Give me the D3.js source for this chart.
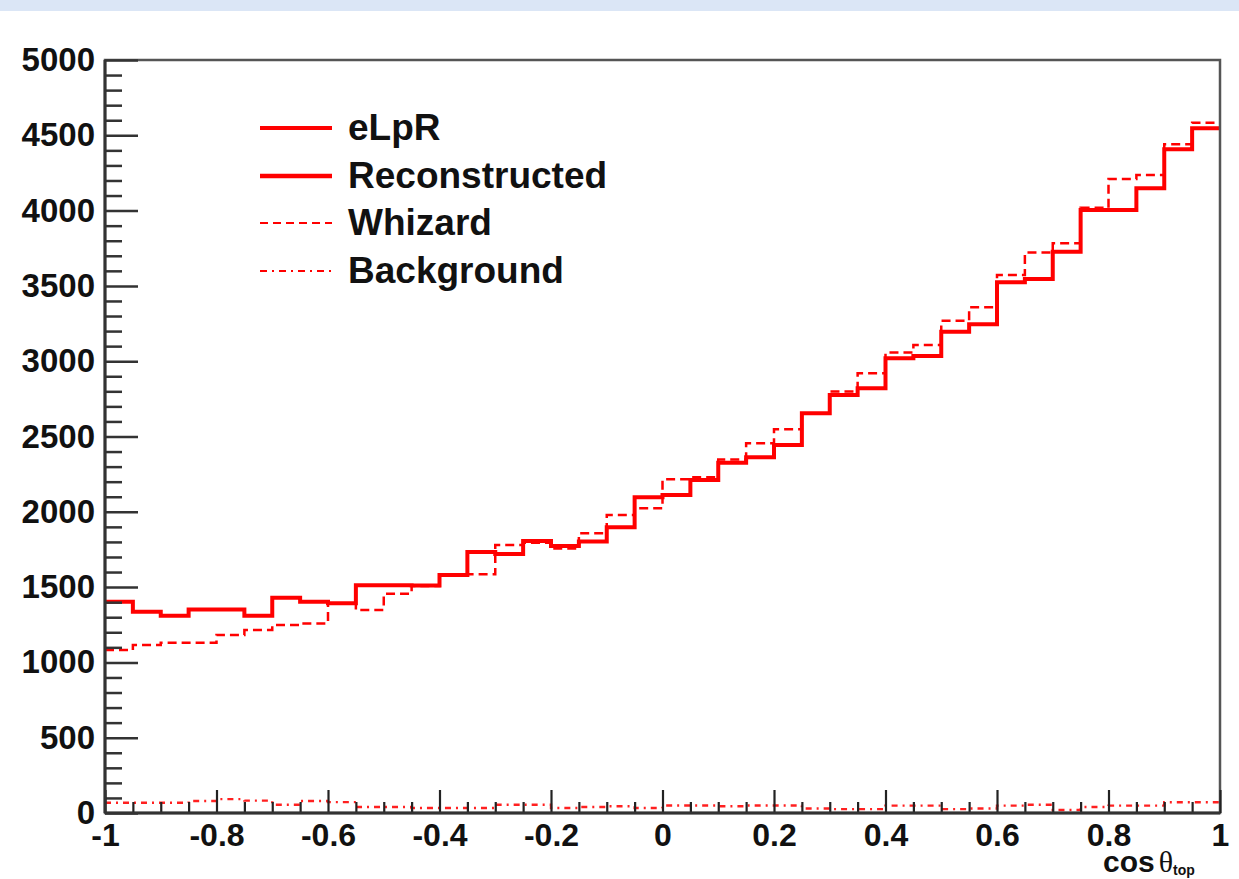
<!DOCTYPE html>
<html>
<head>
<meta charset="utf-8">
<script src="https://cdn.jsdelivr.net/npm/d3@7"></script>
<style>
  html, body { margin: 0; padding: 0; background: #ffffff; }
  svg { display: block; }
  text { font-family: "Liberation Sans", Arial, Helvetica, sans-serif; font-weight: bold; fill: #111; }
</style>
</head>
<body>
<svg id="chart" width="1239" height="879"></svg>
<script>
// ---- data ----
const binEdges = [-1, -0.95, -0.9, -0.85, -0.8, -0.75, -0.7, -0.65, -0.6, -0.55,
  -0.5, -0.45, -0.4, -0.35, -0.3, -0.25, -0.2, -0.15, -0.1, -0.05,
  0, 0.05, 0.1, 0.15, 0.2, 0.25, 0.3, 0.35, 0.4, 0.45,
  0.5, 0.55, 0.6, 0.65, 0.7, 0.75, 0.8, 0.85, 0.9, 0.95, 1];
const reconstructed = [1403, 1337, 1310, 1352, 1352, 1310, 1430, 1403, 1392, 1512,
  1512, 1510, 1580, 1733, 1720, 1806, 1773, 1802, 1897, 2096,
  2112, 2211, 2326, 2362, 2444, 2654, 2776, 2820, 3019, 3034,
  3196, 3245, 3525, 3545, 3727, 4004, 4004, 4148, 4407, 4546];
const whizard = [1082, 1115, 1131, 1131, 1182, 1215, 1248, 1259, 1390, 1348,
  1456, 1507, 1578, 1585, 1780, 1795, 1757, 1857, 1979, 2023,
  2216, 2229, 2348, 2455, 2548, 2654, 2798, 2920, 3057, 3108,
  3269, 3358, 3572, 3721, 3783, 4019, 4210, 4236, 4440, 4584];
const background = [68, 68, 68, 80, 92, 82, 55, 80, 72, 40,
  40, 33, 33, 33, 55, 55, 33, 40, 45, 33,
  50, 50, 45, 50, 50, 30, 26, 26, 49, 49,
  26, 30, 49, 55, 20, 40, 49, 49, 71, 71];
const xTickValues = [-1, -0.8, -0.6, -0.4, -0.2, 0, 0.2, 0.4, 0.6, 0.8, 1];
const xTickLabels = ["-1", "-0.8", "-0.6", "-0.4", "-0.2", "0", "0.2", "0.4", "0.6", "0.8", "1"];
const yTickValues = [0, 500, 1000, 1500, 2000, 2500, 3000, 3500, 4000, 4500, 5000];
const yTickLabels = ["0", "500", "1000", "1500", "2000", "2500", "3000", "3500", "4000", "4500", "5000"];
const legendItems = [
  { label: "eLpR", dash: null, width: 4 },
  { label: "Reconstructed", dash: null, width: 4.5 },
  { label: "Whizard", dash: "8,5", width: 2.2 },
  { label: "Background", dash: "7,5,2,5", width: 2.2 }
];

// ---- layout ----
const svg = d3.select("#chart");
const L = 105, R = 1220, T = 60, B = 813;
const x = d3.scaleLinear().domain([-1, 1]).range([L, R]);
const y = d3.scaleLinear().domain([0, 5000]).range([B, T]);

// top band
svg.append("rect").attr("x", 0).attr("y", 0).attr("width", 1239).attr("height", 11).attr("fill", "#dbe6f6");

// histograms
function histPoints(vals) {
  const pts = vals.map((v, i) => [binEdges[i], v]);
  pts.push([binEdges[binEdges.length - 1], vals[vals.length - 1]]);
  return pts;
}
const line = d3.line().x(d => x(d[0])).y(d => y(d[1])).curve(d3.curveStepAfter);

svg.append("path").attr("d", line(histPoints(background)))
  .attr("fill", "none").attr("stroke", "#ff2020").attr("stroke-width", 2.4)
  .attr("stroke-dasharray", "6,5,2,5");
svg.append("path").attr("d", line(histPoints(whizard)))
  .attr("fill", "none").attr("stroke", "#ff0000").attr("stroke-width", 2.5)
  .attr("stroke-dasharray", "9,5");
svg.append("path").attr("d", line(histPoints(reconstructed)))
  .attr("fill", "none").attr("stroke", "#ff0000").attr("stroke-width", 4);

// frame
svg.append("rect").attr("x", L).attr("y", T).attr("width", R - L).attr("height", B - T)
  .attr("fill", "none").attr("stroke", "#555").attr("stroke-width", 2.5);

const labelFont = "Liberation Sans, Arial, sans-serif";
// y axis minor ticks
const yMinor = d3.range(0, 5001, 100).filter(v => v % 500 !== 0);
svg.append("g").attr("transform", `translate(${L},0)`)
  .call(d3.axisLeft(y).tickValues(yMinor).tickSizeInner(-17).tickSizeOuter(0).tickFormat(""))
  .call(g => g.select(".domain").remove())
  .call(g => g.selectAll("line").attr("stroke", "#333").attr("stroke-width", 2.5));
// y axis major ticks + labels
svg.append("g").attr("transform", `translate(${L},0)`)
  .call(d3.axisLeft(y).tickValues(yTickValues).tickSizeInner(-33).tickSizeOuter(0).tickPadding(10)
    .tickFormat((d, i) => yTickLabels[i]))
  .call(g => g.select(".domain").remove())
  .call(g => g.selectAll("line").attr("stroke", "#333").attr("stroke-width", 2.5))
  .call(g => g.selectAll("text").attr("font-size", 33).attr("font-family", labelFont).attr("font-weight", "bold").attr("fill", "#111"));

// x axis minor ticks
const xMinor = binEdges.filter(v => !xTickValues.some(t => Math.abs(t - v) < 1e-9));
svg.append("g").attr("transform", `translate(0,${B})`)
  .call(d3.axisBottom(x).tickValues(xMinor).tickSizeInner(-11).tickSizeOuter(0).tickFormat(""))
  .call(g => g.select(".domain").remove())
  .call(g => g.selectAll("line").attr("stroke", "#222").attr("stroke-width", 2.2));
// x axis major ticks + labels
svg.append("g").attr("transform", `translate(0,${B})`)
  .call(d3.axisBottom(x).tickValues(xTickValues).tickSizeInner(-23).tickSizeOuter(0).tickPadding(10)
    .tickFormat((d, i) => xTickLabels[i]))
  .call(g => g.select(".domain").remove())
  .call(g => g.selectAll("line").attr("stroke", "#222").attr("stroke-width", 2.2))
  .call(g => g.selectAll("text").attr("font-size", 32).attr("font-family", labelFont).attr("font-weight", "bold").attr("fill", "#111"));

// axis lines (left and bottom darker)
svg.append("line").attr("x1", L).attr("x2", L).attr("y1", T).attr("y2", B).attr("stroke", "#333").attr("stroke-width", 3);
svg.append("line").attr("x1", L).attr("x2", R).attr("y1", B).attr("y2", B).attr("stroke", "#333").attr("stroke-width", 3);

// x axis title
const title = svg.append("text").attr("x", 1103).attr("y", 872).attr("font-size", 30);
title.append("tspan").text("cos");
title.append("tspan").attr("font-family", "Liberation Serif, DejaVu Serif, serif").attr("font-weight", "normal").attr("dx", 4).text("θ");
title.append("tspan").attr("font-size", 14).attr("dy", 3).text("top");

// legend
const lg = svg.append("g");
const rowY = [128, 176, 223, 271];
legendItems.forEach((it, i) => {
  lg.append("line").attr("x1", 260).attr("x2", 332).attr("y1", rowY[i]).attr("y2", rowY[i])
    .attr("stroke", "#ff0000").attr("stroke-width", it.width)
    .attr("stroke-dasharray", it.dash);
  lg.append("text").attr("x", 348).attr("y", rowY[i] + 12).attr("font-size", 37).text(it.label);
});
</script>
</body>
</html>
